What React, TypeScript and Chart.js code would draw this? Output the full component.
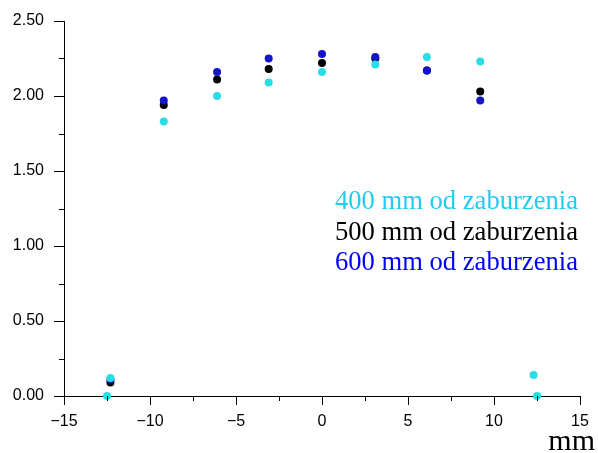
import React, { useEffect, useRef } from "react";
import { Chart, registerables } from "chart.js";

Chart.register(...registerables);

// Distance from centre (mm)
const xCyan = [-12.5, -12.3, -9.2, -6.1, -3.1, 0, 3.1, 6.1, 9.2, 12.3, 12.5];
const xBlackBlue = [-12.3, -9.2, -6.1, -3.1, 0, 3.1, 6.1, 9.2];

// Measured values for each distance from the disturbance
const y400 = [0, 0.12, 1.83, 2.0, 2.09, 2.16, 2.21, 2.26, 2.23, 0.14, 0];
const y500 = [0.09, 1.94, 2.11, 2.18, 2.22, 2.25, 2.17, 2.03];
const y600 = [0.11, 1.97, 2.16, 2.25, 2.28, 2.26, 2.17, 1.97];

const seriesLabels = ["400 mm od zaburzenia", "500 mm od zaburzenia", "600 mm od zaburzenia"];
const pointColors = ["#28dde6", "#000000", "#1414c8"];
const textColors = ["#22ccee", "#000000", "#0000ff"];
const xTitle = "mm";

const toPoints = (xs: number[], ys: number[]) => xs.map((x, i) => ({ x, y: ys[i] }));

// Major and minor tick marks drawn outward from both axes
const axisTicks = {
  id: "axisTicks",
  afterDraw(chart: any) {
    const { ctx, chartArea, scales } = chart;
    const xs = scales.x;
    const ys = scales.y;
    ctx.save();
    ctx.strokeStyle = "#000";
    ctx.lineWidth = 1;
    ctx.beginPath();
    for (let v = xs.min; v <= xs.max + 1e-9; v += 2.5) {
      const major = Math.abs(v / 5 - Math.round(v / 5)) < 1e-6;
      const px = Math.round(xs.getPixelForValue(v)) + 0.5;
      ctx.moveTo(px, chartArea.bottom);
      ctx.lineTo(px, chartArea.bottom + (major ? 9 : 5));
    }
    for (let v = ys.min; v <= ys.max + 1e-9; v += 0.25) {
      const major = Math.abs(v / 0.5 - Math.round(v / 0.5)) < 1e-6;
      const py = Math.round(ys.getPixelForValue(v)) + 0.5;
      ctx.moveTo(chartArea.left, py);
      ctx.lineTo(chartArea.left - (major ? 10 : 5), py);
    }
    ctx.stroke();

    // axis unit
    ctx.fillStyle = "#000";
    ctx.font = "30px 'Liberation Serif'";
    ctx.textAlign = "right";
    ctx.textBaseline = "alphabetic";
    ctx.fillText(xTitle, chart.width - 3, 450);

    // series legend
    ctx.font = "26.6px 'Liberation Serif'";
    ctx.textAlign = "left";
    seriesLabels.forEach((t, i) => {
      ctx.fillStyle = textColors[i];
      ctx.fillText(t, 335, 209 + i * 30.5);
    });
    ctx.restore();
  },
};

export default function App() {
  const ref = useRef<HTMLCanvasElement>(null);

  useEffect(() => {
    if (!ref.current) return;
    const tickFont = { family: "'Liberation Sans', Arial, sans-serif", size: 16 };
    const chart = new Chart(ref.current, {
      type: "scatter",
      data: {
        // drawn last-to-first, so the 400 mm series sits on top
        datasets: [
          { label: seriesLabels[0], data: toPoints(xCyan, y400), backgroundColor: pointColors[0], borderWidth: 0, pointRadius: 4 },
          { label: seriesLabels[2], data: toPoints(xBlackBlue, y600), backgroundColor: pointColors[2], borderWidth: 0, pointRadius: 4 },
          { label: seriesLabels[1], data: toPoints(xBlackBlue, y500), backgroundColor: pointColors[1], borderWidth: 0, pointRadius: 4 },
        ],
      },
      options: {
        responsive: false,
        animation: false,
        clip: false as any,
        layout: { padding: { top: 21, right: 18, left: 0, bottom: 0 } },
        plugins: { legend: { display: false }, tooltip: { enabled: false } },
        scales: {
          x: {
            type: "linear",
            min: -15,
            max: 15,
            grid: { display: false, drawTicks: true, tickLength: 10 },
            border: { display: true, color: "#000", width: 1 },
            ticks: {
              stepSize: 5,
              padding: 6,
              color: "#000",
              font: tickFont,
              maxRotation: 0,
              callback: (v: any) => (Number(v) < 0 ? "\u2212" + Math.abs(Number(v)) : String(v)),
            },
            afterFit: (s: any) => {
              s.height = 57;
            },
          },
          y: {
            type: "linear",
            min: 0,
            max: 2.5,
            grid: { display: false, drawTicks: true, tickLength: 10 },
            border: { display: true, color: "#000", width: 1 },
            ticks: {
              stepSize: 0.5,
              padding: 10,
              color: "#000",
              font: tickFont,
              callback: (v: any) => Number(v).toFixed(2),
            },
            afterFit: (s: any) => {
              s.width = 64;
            },
          },
        },
      },
      plugins: [axisTicks],
    });
    return () => chart.destroy();
  }, []);

  return (
    <div style={{ position: "absolute", left: 0, top: 0, width: 598, height: 453, background: "#fff" }}>
      <canvas ref={ref} width={598} height={453} />
    </div>
  );
}
